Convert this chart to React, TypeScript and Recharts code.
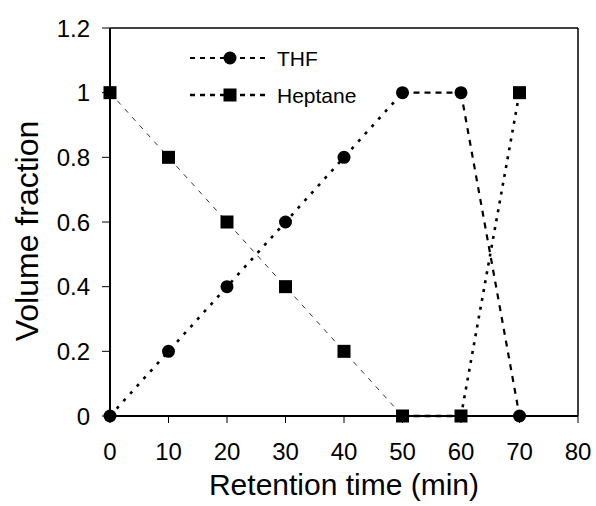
import React from "react";
import { Line, LineChart, ReferenceLine, XAxis, YAxis } from "recharts";

const times = [0, 10, 20, 30, 40, 50, 60, 70];
const thf = [0, 0.2, 0.4, 0.6, 0.8, 1, 1, 0];
const heptane = [1, 0.8, 0.6, 0.4, 0.2, 0, 0, 1];
const xTicks = [0, 10, 20, 30, 40, 50, 60, 70, 80];
const yTicks = [0, 0.2, 0.4, 0.6, 0.8, 1, 1.2];

// parts of the run where the line style changes
const ramp: [number, number] = [0, 50];
const hold: [number, number] = [50, 60];
const flip: [number, number] = [60, 70];

const pick = (t: number, [a, b]: [number, number], v: number) => (t >= a && t <= b ? v : null);

const rows = times.map((t, i) => ({
  time: t,
  thf: thf[i],
  heptane: heptane[i],
  thfRamp: pick(t, ramp, thf[i]),
  thfHold: pick(t, hold, thf[i]),
  thfFlip: pick(t, flip, thf[i]),
  hepRamp: pick(t, ramp, heptane[i]),
  hepHold: pick(t, hold, heptane[i]),
  hepFlip: pick(t, flip, heptane[i]),
}));

const font = "Arial, 'Liberation Sans', sans-serif";

const Circle = (p: any) => <circle key={p.index} cx={p.cx} cy={p.cy} r={6.5} fill="#000" />;
const Square = (p: any) => <rect key={p.index} x={p.cx - 6.5} y={p.cy - 6.5} width={13} height={13} fill="#000" />;

const legendItems = [
  { name: "THF", shape: "circle", width: 1.8, dash: "5 5" },
  { name: "Heptane", shape: "square", width: 2.6, dash: "5 5" },
];

function LegendBox() {
  return (
    <svg width={200} height={80} style={{ fontFamily: font, position: "absolute", left: 185, top: 40 }}>
      {legendItems.map((it, i) => {
        const y = 18 + i * 37;
        return (
          <g key={it.name}>
            <line x1={5} x2={83} y1={y} y2={y} stroke="#000" strokeWidth={it.width} strokeDasharray={it.dash} />
            {it.shape === "circle" ? (
              <circle cx={45} cy={y} r={6.5} fill="#000" />
            ) : (
              <rect x={38.5} y={y - 6.5} width={13} height={13} fill="#000" />
            )}
            <text x={92} y={y} dy="0.36em" fontSize={21} fill="#000">{it.name}</text>
          </g>
        );
      })}
    </svg>
  );
}

export default function App() {
  return (
    <div style={{ position: "absolute", left: 0, top: 0, width: 596, height: 506, background: "#fff" }}>
      <LineChart width={596} height={506} data={rows} margin={{ top: 28, right: 18, bottom: 0, left: 50 }}>
        <XAxis
          dataKey="time"
          type="number"
          domain={[0, 80]}
          ticks={xTicks}
          interval={0}
          height={90}
          tickSize={7}
          tickMargin={20}
          tick={{ fontSize: 24, fill: "#000", fontFamily: font }}
          tickLine={{ stroke: "#000", strokeWidth: 1 }}
          axisLine={{ stroke: "#000", strokeWidth: 2 }}
          label={{ value: "Retention time (min)", position: "insideBottom", offset: 11, fontSize: 30, fill: "#000", fontFamily: font }}
        />
        <YAxis
          type="number"
          domain={[0, 1.2]}
          ticks={yTicks}
          interval={0}
          width={60}
          tickSize={8}
          tickMargin={12}
          tick={{ fontSize: 24, fill: "#000", fontFamily: font }}
          tickLine={{ stroke: "#000", strokeWidth: 1 }}
          axisLine={{ stroke: "#000", strokeWidth: 2 }}
          label={({ viewBox }: any) => {
            const cx = 26.5;
            const cy = viewBox.y + viewBox.height / 2 + 9;
            return (
              <text x={cx} y={cy} dy="0.36em" transform={`rotate(-90, ${cx}, ${cy})`} textAnchor="middle" fontSize={32} fill="#000" fontFamily={font}>
                Volume fraction
              </text>
            );
          }}
        />
        <ReferenceLine y={1.2} stroke="#000" strokeWidth={1.5} />
        <ReferenceLine x={80} stroke="#000" strokeWidth={1.5} />

        <Line dataKey="hepRamp" stroke="#333" strokeWidth={1} strokeDasharray="5 6" dot={false} activeDot={false} isAnimationActive={false} />
        <Line dataKey="thfRamp" stroke="#000" strokeWidth={2.6} strokeDasharray="3 7" dot={false} activeDot={false} isAnimationActive={false} />
        <Line dataKey="thfHold" stroke="#000" strokeWidth={2.4} strokeDasharray="6 5" dot={false} activeDot={false} isAnimationActive={false} />
        <Line dataKey="hepHold" stroke="#000" strokeWidth={2.4} strokeDasharray="6 5" dot={false} activeDot={false} isAnimationActive={false} />
        <Line dataKey="thfFlip" stroke="#000" strokeWidth={2.2} strokeDasharray="6 6" dot={false} activeDot={false} isAnimationActive={false} />
        <Line dataKey="hepFlip" stroke="#000" strokeWidth={2.6} strokeDasharray="3 6" dot={false} activeDot={false} isAnimationActive={false} />

        <Line dataKey="thf" stroke="none" dot={Circle} activeDot={false} isAnimationActive={false} />
        <Line dataKey="heptane" stroke="none" dot={Square} activeDot={false} isAnimationActive={false} />
      </LineChart>
      <LegendBox />
    </div>
  );
}
